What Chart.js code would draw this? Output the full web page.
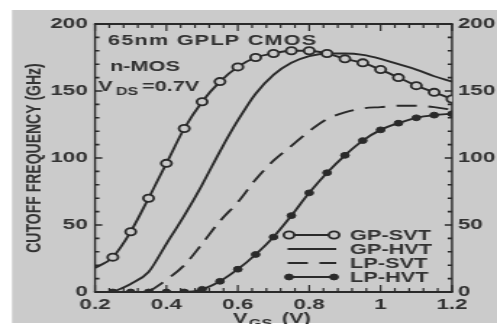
<!DOCTYPE html>
<html>
<head>
<meta charset="utf-8">
<script src="https://cdn.jsdelivr.net/npm/chart.js@4.4.1/dist/chart.umd.min.js"></script>
<style>
  html, body { margin: 0; padding: 0; background: #ffffff; overflow: hidden; }
  #wrap { position: absolute; left: 0; top: 0; transform-origin: 0 0; }
</style>
</head>
<body>
<div id="wrap"><canvas id="chart" width="343" height="324"></canvas></div>
<script>
// gate voltage (V) and cutoff frequency (GHz)
const vgs = [0.2, 0.25, 0.3, 0.35, 0.4, 0.45, 0.5, 0.55, 0.6, 0.65, 0.7, 0.75, 0.8, 0.85, 0.9, 0.95, 1.0, 1.05, 1.1, 1.15, 1.2];
const gpSvt = [18, 26, 45, 70, 96, 122, 142, 157, 168, 175, 178, 180, 180, 178, 174, 171, 166, 160, 154, 149, 144];
const gpHvt = [null, 0, 6, 15, 36, 57, 80, 105, 128, 148, 162, 171, 176, 178, 178, 177, 174, 170, 166, 161, 157];
const lpSvt = [null, null, null, 0, 9, 20, 36, 53, 67, 84, 98, 109, 120, 129, 134, 137, 138, 139, 139, 138, 136];
const lpHvt = [null, 0, 0, 0, 0, 0, 2, 8, 17, 28, 41, 57, 74, 89, 102, 113, 121, 126, 130, 132, 133];
const seriesNames = ["GP-SVT", "GP-HVT", "LP-SVT", "LP-HVT"];
const xTicks = [0.2, 0.4, 0.6, 0.8, 1, 1.2];
const yTicks = [0, 50, 100, 150, 200];

// the source picture is stretched sideways, so the canvas is drawn narrow and stretched
const S = 497 / 343;
document.getElementById("wrap").style.transform = "scaleX(" + S + ")";

const BG = "#cbcbcb";
const INK = "#2a2a2a";
const TXT = "#333333";
const FONT = "'Liberation Sans', Arial, sans-serif";

const toPoints = ys => vgs.map((v, i) => ({ x: v, y: ys[i] }));

const frame = {
    id: "frame",
    beforeDraw(chart) {
        const c = chart.ctx;
        c.save();
        c.fillStyle = BG;
        c.fillRect(12 / S, 10, chart.width, 313);
        c.restore();
    },
    beforeDatasetsDraw(chart) {
        const c = chart.ctx;
        const a = chart.chartArea;
        const x = chart.scales.x, y = chart.scales.y;
        c.save();
        c.strokeStyle = INK;
        // horizontal edges
        c.lineWidth = 2;
        c.beginPath();
        c.moveTo(a.left - 0.7, a.top); c.lineTo(a.right + 0.7, a.top);
        c.moveTo(a.left - 0.7, a.bottom); c.lineTo(a.right + 0.7, a.bottom);
        c.stroke();
        // vertical edges
        c.lineWidth = 1.4;
        c.beginPath();
        c.moveTo(a.left, a.top); c.lineTo(a.left, a.bottom);
        c.moveTo(a.right, a.top); c.lineTo(a.right, a.bottom);
        c.stroke();
        // inward ticks on x (every 0.04, long every 0.2)
        c.lineWidth = 1.2;
        c.beginPath();
        for (let k = 0; k <= 25; k++) {
            const px = x.getPixelForValue(0.2 + k * 0.04);
            const len = k % 5 === 0 ? 7 : 4;
            c.moveTo(px, a.top); c.lineTo(px, a.top + len);
            c.moveTo(px, a.bottom); c.lineTo(px, a.bottom - len);
        }
        c.stroke();
        // inward ticks on y (every 10, long every 50)
        c.lineWidth = 1.6;
        c.beginPath();
        for (let g = 0; g <= 200; g += 10) {
            const py = y.getPixelForValue(g);
            const len = g % 50 === 0 ? 5 : 3;
            c.moveTo(a.left, py); c.lineTo(a.left + len, py);
            c.moveTo(a.right, py); c.lineTo(a.right - len, py);
        }
        c.stroke();
        c.restore();
    },
    afterDraw(chart) {
        const c = chart.ctx;
        c.save();
        c.fillStyle = TXT;
        c.textBaseline = "alphabetic";
        c.textAlign = "left";
        // annotations
        c.font = "bold 15px " + FONT;
        c.letterSpacing = "0.8px";
        c.fillText("65nm GPLP CMOS", 108 / S, 45);
        c.letterSpacing = "0px";
        c.fillText("n-MOS", 110 / S, 71);
        c.fillText("V", 98 / S, 91);
        c.fillText("=0.7V", 142 / S, 91);
        c.font = "bold 11px " + FONT;
        c.fillText("DS", 116 / S, 95);
        // x axis title
        c.font = "bold 15px " + FONT;
        c.fillText("V", 233 / S, 323);
        c.fillText("(V)", 282 / S, 323);
        c.font = "bold 11px " + FONT;
        c.fillText("GS", 249 / S, 327);

        // legend
        const rows = [235, 249, 263, 277];
        const x0 = 289 / S, x1 = 334 / S;
        chart.data.datasets.forEach((ds, i) => {
            const ry = rows[i];
            c.strokeStyle = ds.borderColor;
            c.lineWidth = ds.borderWidth;
            c.setLineDash(ds.borderDash || []);
            c.beginPath();
            c.moveTo(x0 - 1, ry); c.lineTo(x1 + 1.5, ry);
            c.stroke();
            c.setLineDash([]);
            if (ds.legendDot) {
                [x0, x1].forEach(px => {
                    c.beginPath();
                    c.arc(px, ry, ds.legendDot, 0, Math.PI * 2);
                    c.fillStyle = ds.pointBackgroundColor;
                    c.fill();
                    c.lineWidth = ds.pointBorderWidth;
                    c.strokeStyle = ds.pointBorderColor;
                    c.stroke();
                });
            }
            c.fillStyle = TXT;
            c.font = "bold 15px " + FONT;
            c.textBaseline = "middle";
            c.fillText(ds.label, 350 / S, ry + 0.5);
        });
        c.restore();
    }
};

const tickFont = { family: FONT, size: 15.5, weight: "bold" };

new Chart(document.getElementById("chart"), {
    type: "line",
    data: {
        datasets: [
            {
                label: seriesNames[0],
                data: toPoints(gpSvt),
                borderColor: INK,
                borderWidth: 1.9,
                pointRadius: ctx => (ctx.dataIndex === 0 ? 0 : 3.6),
                pointBackgroundColor: BG,
                pointBorderColor: INK,
                pointBorderWidth: 1.8,
                legendDot: 3.6,
                cubicInterpolationMode: "monotone"
            },
            {
                label: seriesNames[1],
                data: toPoints(gpHvt),
                borderColor: INK,
                borderWidth: 1.9,
                pointRadius: 0,
                cubicInterpolationMode: "monotone"
            },
            {
                label: seriesNames[2],
                data: toPoints(lpSvt),
                borderColor: INK,
                borderWidth: 1.9,
                borderDash: [14, 8],
                pointRadius: 0,
                cubicInterpolationMode: "monotone"
            },
            {
                label: seriesNames[3],
                data: toPoints(lpHvt),
                borderColor: INK,
                borderWidth: 1.9,
                pointRadius: 2.9,
                pointBackgroundColor: INK,
                pointBorderColor: INK,
                pointBorderWidth: 1,
                legendDot: 2.9,
                cubicInterpolationMode: "monotone"
            }
        ]
    },
    options: {
        responsive: false,
        animation: false,
        layout: { padding: { top: 24, left: 0, right: 0, bottom: 0 } },
        plugins: {
            legend: { display: false },
            tooltip: { enabled: false }
        },
        scales: {
            x: {
                type: "linear",
                min: 0.2,
                max: 1.2,
                grid: { display: false, drawTicks: false },
                border: { display: false },
                afterBuildTicks: sc => { sc.ticks = xTicks.map(v => ({ value: v })); },
                afterFit: sc => { sc.height = 32; },
                ticks: {
                    color: TXT,
                    font: tickFont,
                    padding: 3,
                    maxRotation: 0,
                    autoSkip: false,
                    callback: v => String(v)
                }
            },
            y: {
                position: "left",
                min: 0,
                max: 200,
                grid: { display: false, drawTicks: false },
                border: { display: false },
                afterBuildTicks: sc => { sc.ticks = yTicks.map(v => ({ value: v })); },
                afterFit: sc => { sc.width = 95 / S; },
                ticks: { color: TXT, font: tickFont, padding: 5, callback: v => String(v) },
                title: {
                    display: true,
                    text: "CUTOFF FREQUENCY (GHz)",
                    color: TXT,
                    font: { family: FONT, size: 14, weight: "bold" },
                    padding: { top: 15.8, bottom: 0 }
                }
            },
            y2: {
                position: "right",
                min: 0,
                max: 200,
                grid: { display: false, drawTicks: false },
                border: { display: false },
                afterBuildTicks: sc => { sc.ticks = yTicks.map(v => ({ value: v })); },
                afterFit: sc => { sc.width = 343 - 452 / S; },
                ticks: { color: TXT, font: tickFont, padding: 4, callback: v => String(v) }
            }
        }
    },
    plugins: [frame]
});
</script>
</body>
</html>
